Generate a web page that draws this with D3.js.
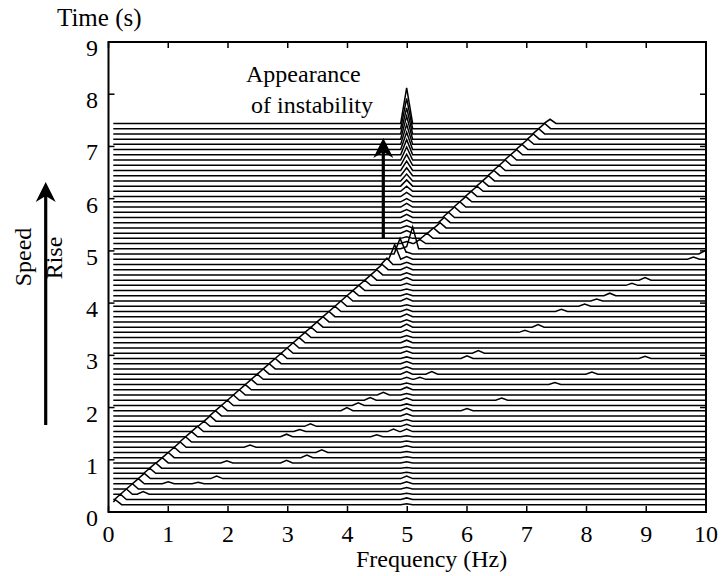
<!DOCTYPE html>
<html><head><meta charset="utf-8">
<script src="https://cdn.jsdelivr.net/npm/d3@7"></script>
<style>body{margin:0;background:#fff}svg{display:block}text{font-family:"Liberation Serif","Times New Roman",serif;fill:#000}</style>
</head><body><svg id="c" width="721" height="576"></svg>
<script>
// ---- data ----
const xTicks = [0,1,2,3,4,5,6,7,8,9,10];
const yTicks = [0,1,2,3,4,5,6,7,8,9];
// baseline time of each spectrum line (s)
const lineTimes = [0.14,0.24,0.34,0.44,0.54,0.64,0.74,0.84,0.94,1.04,1.14,1.24,1.34,1.44,1.54,1.64,1.74,1.84,1.94,2.04,
  2.14,2.24,2.34,2.44,2.54,2.64,2.74,2.84,2.94,3.04,3.14,3.24,3.34,3.44,3.54,3.64,3.74,3.84,3.94,4.04,
  4.14,4.24,4.34,4.44,4.54,4.64,4.74,4.84,4.94,5.04,5.14,5.24,5.34,5.44,5.54,5.64,5.74,5.84,5.94,6.04,
  6.14,6.24,6.34,6.44,6.54,6.64,6.74,6.84,6.94,7.04,7.14,7.24,7.34,7.44];
// running-speed (1X) peak frequency (Hz) per line
const runFreq = [0.12,0.2,0.3,0.4,0.5,0.6,0.69,0.79,0.9,1.0,1.1,1.2,1.29,1.39,1.49,1.6,1.7,1.79,1.89,1.99,
  2.09,2.19,2.29,2.39,2.49,2.59,2.69,2.79,2.89,2.99,3.09,3.19,3.29,3.39,3.49,3.59,3.69,3.79,3.89,3.99,
  4.09,4.19,4.29,4.39,4.49,4.58,4.66,4.79,4.88,5.09,5.21,5.33,5.44,5.55,5.62,5.69,5.79,5.88,5.98,6.07,
  6.17,6.26,6.36,6.45,6.54,6.64,6.73,6.83,6.92,7.02,7.11,7.2,7.3,7.39];
// running-speed peak amplitude (in s units of the waterfall)
const runAmp = [0.09,0.1,0.1,0.1,0.1,0.1,0.1,0.1,0.1,0.1,0.1,0.1,0.1,0.1,0.1,0.1,0.1,0.1,0.1,0.1,
  0.1,0.1,0.1,0.1,0.1,0.1,0.1,0.1,0.1,0.1,0.1,0.1,0.1,0.1,0.1,0.1,0.1,0.1,0.1,0.1,
  0.1,0.1,0.1,0.1,0.1,0.1,0.12,0.28,0.3,0.42,0.08,0.1,0.1,0.1,0.1,0.1,0.1,0.1,0.1,0.1,
  0.1,0.1,0.1,0.1,0.1,0.1,0.1,0.1,0.1,0.1,0.1,0.1,0.1,0.08];
// 5 Hz (instability) peak amplitude per line
const instabFreq = 4.99;
const instabAmp = [0.02,0.03,0.02,0.03,0.04,0.05,0.02,0.01,0.02,0.02,0.02,0.03,0.02,0.02,0.05,0.04,0.03,0.04,0.05,0.03,
  0.04,0.03,0.05,0.03,0.04,0.05,0.04,0.04,0.03,0.04,0.03,0.05,0.04,0.05,0.06,0.04,0.05,0.04,0.03,0.05,
  0.04,0.03,0.04,0.05,0.04,0.05,0.04,0.05,0.04,0.04,0.04,0.03,0.05,0.04,0.05,0.06,0.05,0.07,0.06,0.08,
  0.1,0.12,0.13,0.15,0.18,0.21,0.25,0.29,0.33,0.38,0.44,0.5,0.58,0.68];
// harmonic (2X / 3X) small peaks: line time, frequency, amplitude
const harmT = [0.34,0.54,0.54,0.64,0.94,0.94,1.04,1.14,1.24,1.44,1.44,1.54,1.54,1.64,1.94,1.94,2.04,2.14,2.14,2.24,
  2.44,2.54,2.64,2.64,2.94,2.94,3.04,3.44,3.54,3.84,3.94,4.04,4.14,4.34,4.44,4.84,4.94];
const harmF = [0.58,1.0,1.5,1.81,1.98,2.98,3.32,3.57,2.37,2.98,4.49,3.2,4.77,3.38,3.99,6.0,4.18,4.38,6.58,4.6,
  7.47,5.21,5.41,8.09,6.0,8.98,6.19,6.97,7.19,7.58,7.97,8.17,8.39,8.76,8.98,9.79,9.98];
const harmA = [0.05,0.04,0.03,0.05,0.04,0.05,0.05,0.05,0.04,0.05,0.04,0.04,0.05,0.05,0.06,0.04,0.05,0.05,0.04,0.05,
  0.04,0.04,0.05,0.04,0.05,0.04,0.05,0.04,0.05,0.04,0.04,0.04,0.05,0.04,0.05,0.04,0.06];

// ---- layout ----
const svg = d3.select("#c");
const L = 108.5, R = 706, T = 42, B = 512;
const x = d3.scaleLinear().domain([0,10]).range([L,R]);
const y = d3.scaleLinear().domain([0,9]).range([B,T]);
const halfW = 0.1, fMin = 0.08, fMax = 10;

// waterfall lines
const lineGen = d3.line().x(d => x(d[0])).y(d => y(d[1]));
const g = svg.append("g");
lineTimes.forEach((t, i) => {
  const peaks = [[runFreq[i], runAmp[i]], [instabFreq, instabAmp[i]]];
  harmT.forEach((ht, k) => { if (Math.abs(ht - t) < 0.001) peaks.push([harmF[k], harmA[k]]); });
  const xs = new Set([fMin, fMax]);
  peaks.forEach(p => { [p[0]-halfW, p[0], p[0]+halfW].forEach(v => { if (v > fMin && v < fMax) xs.add(v); }); });
  const pts = Array.from(xs).sort((a,b) => a-b).map(f => {
    let h = 0;
    peaks.forEach(p => { const d = Math.abs(f - p[0]); if (d < halfW) h = Math.max(h, p[1]*(1 - d/halfW)); });
    return [f, t + h];
  });
  g.append("path").attr("d", lineGen(pts)).attr("fill","none").attr("stroke","#000").attr("stroke-width",1.5);
});

// frame
svg.append("rect").attr("x",L).attr("y",T).attr("width",R-L).attr("height",B-T)
  .attr("fill","none").attr("stroke","#000").attr("stroke-width",2);
const tk = 6;
xTicks.forEach(v => {
  svg.append("line").attr("x1",x(v)).attr("x2",x(v)).attr("y1",B).attr("y2",B-tk).attr("stroke","#000").attr("stroke-width",1.5);
  svg.append("line").attr("x1",x(v)).attr("x2",x(v)).attr("y1",T).attr("y2",T+tk).attr("stroke","#000").attr("stroke-width",1.5);
  svg.append("text").attr("x",x(v)).attr("y",B+30).attr("text-anchor","middle").attr("font-size",24).text(v);
});
yTicks.forEach(v => {
  svg.append("line").attr("x1",L).attr("x2",L+tk).attr("y1",y(v)).attr("y2",y(v)).attr("stroke","#000").attr("stroke-width",1.5);
  svg.append("line").attr("x1",R).attr("x2",R-tk).attr("y1",y(v)).attr("y2",y(v)).attr("stroke","#000").attr("stroke-width",1.5);
  svg.append("text").attr("x",98).attr("y",y(v)+14).attr("text-anchor","end").attr("font-size",24).text(v);
});

// axis titles
svg.append("text").attr("x",57).attr("y",26).attr("font-size",25).text("Time (s)");
svg.append("text").attr("x",356).attr("y",567).attr("font-size",24).text("Frequency (Hz)");

// annotation
svg.append("text").attr("x",246).attr("y",82).attr("font-size",24).text("Appearance");
svg.append("text").attr("x",251).attr("y",113).attr("font-size",24).text("of instability");

function arrow(cx, y0, tipY) {
  svg.append("line").attr("x1",cx).attr("x2",cx).attr("y1",y0).attr("y2",tipY+12)
    .attr("stroke","#000").attr("stroke-width",3.2);
  svg.append("path").attr("d",`M${cx},${tipY} L${cx+10},${tipY+20} L${cx},${tipY+14} L${cx-10},${tipY+20} Z`).attr("fill","#000");
}
arrow(383.3, 238, 138);
arrow(45.7, 425, 182);

svg.append("text").attr("transform","translate(31,257) rotate(-90)").attr("text-anchor","middle").attr("font-size",24).text("Speed");
svg.append("text").attr("transform","translate(62,258) rotate(-90)").attr("text-anchor","middle").attr("font-size",24).text("Rise");
</script></body></html>
